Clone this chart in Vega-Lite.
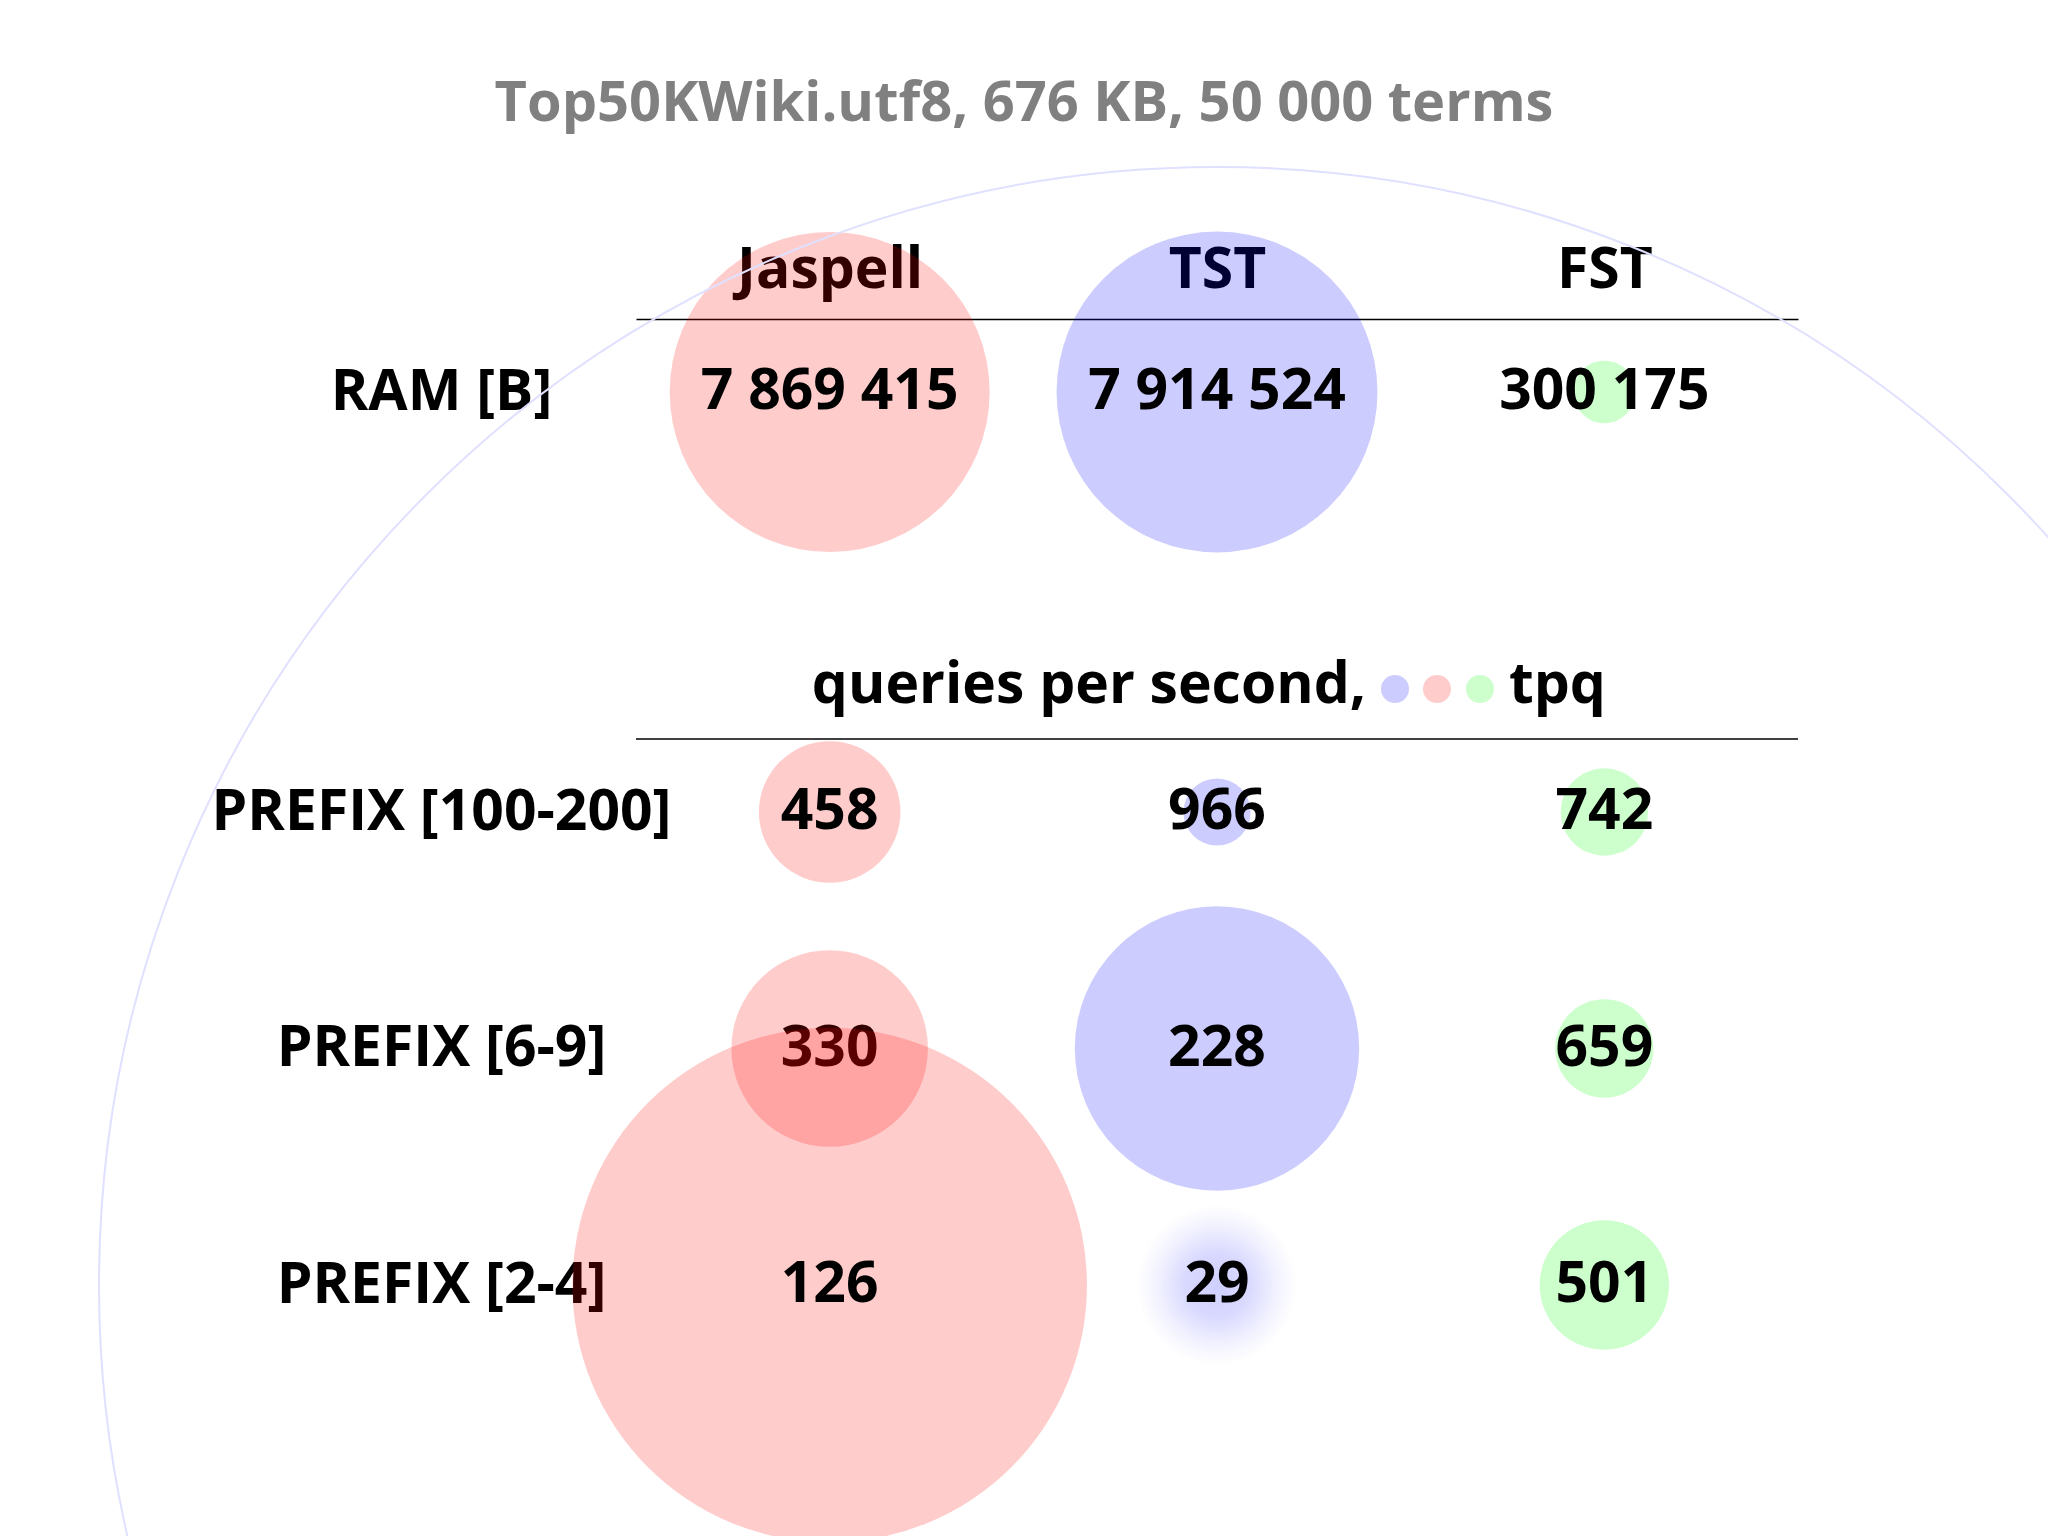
{
  "$schema": "https://vega.github.io/schema/vega-lite/v6.json",
  "autosize": {"type": "none"},
  "padding": {"left": 636, "top": 319, "right": 250, "bottom": 0},
  "width": 1162,
  "height": 1217,
  "background": "white",
  "title": {
    "text": "Top50KWiki.utf8, 676 KB, 50 000 terms",
    "font": "Open Sans",
    "fontSize": 56,
    "fontWeight": "bold",
    "color": "#808080",
    "anchor": "middle",
    "dx": -193,
    "offset": 30
  },
  "config": {
    "view": {"stroke": null},
    "font": "Open Sans",
    "locale": {"number": {"decimal": ".", "thousands": " ", "grouping": [3], "currency": ["", ""]}},
    "axisX": {
      "labelFont": "Open Sans", "labelFontSize": 57, "labelFontWeight": "bold", "labelColor": "black",
      "labelAngle": 0, "labelBaseline": "alphabetic", "labelPadding": 32, "labelLimit": 0,
      "ticks": false, "tickSize": 0, "domainColor": "black", "domainWidth": 1.5, "grid": false
    },
    "axisY": {
      "labelFont": "Open Sans", "labelFontSize": 57, "labelFontWeight": "bold", "labelColor": "black",
      "labelAlign": "center", "labelBaseline": "middle", "labelPadding": 195, "labelLimit": 0,
      "ticks": false, "tickSize": 0, "domain": false, "grid": false
    }
  },
  "datasets": {
    "ram": [
      {"metric": "RAM [B]", "impl": "Jaspell", "bytes": 7869415},
      {"metric": "RAM [B]", "impl": "TST", "bytes": 7914524},
      {"metric": "RAM [B]", "impl": "FST", "bytes": 300175}
    ],
    "qps": [
      {"metric": "PREFIX [100-200]", "impl": "Jaspell", "qps": 458},
      {"metric": "PREFIX [100-200]", "impl": "TST", "qps": 966},
      {"metric": "PREFIX [100-200]", "impl": "FST", "qps": 742},
      {"metric": "PREFIX [6-9]", "impl": "Jaspell", "qps": 330},
      {"metric": "PREFIX [6-9]", "impl": "TST", "qps": 228},
      {"metric": "PREFIX [6-9]", "impl": "FST", "qps": 659},
      {"metric": "PREFIX [2-4]", "impl": "Jaspell", "qps": 126},
      {"metric": "PREFIX [2-4]", "impl": "TST", "qps": 29},
      {"metric": "PREFIX [2-4]", "impl": "FST", "qps": 501}
    ]
  },
  "resolve": {"scale": {"y": "independent", "size": "independent"}},
  "layer": [
    {
      "data": {"name": "ram"},
      "layer": [
        {
          "mark": {"type": "circle", "opacity": 0.2},
          "encoding": {
            "x": {"field": "impl", "type": "nominal", "scale": {"type": "point", "domain": ["Jaspell", "TST", "FST"], "padding": 0.5}, "axis": {"orient": "top", "title": null}},
            "y": {"field": "metric", "type": "nominal", "scale": {"type": "point", "domain": ["RAM [B]"], "range": [0, 146]}, "axis": {"orient": "left", "title": null}},
            "color": {"field": "impl", "type": "nominal", "scale": {"domain": ["Jaspell", "TST", "FST"], "range": ["#ff0000", "#0000ff", "#00ff00"]}, "legend": null},
            "size": {"field": "bytes", "type": "quantitative", "scale": {"type": "linear", "domain": [0, 7869415], "range": [0, 102400], "zero": true, "nice": false}, "legend": null}
          }
        },
        {
          "mark": {"type": "text", "font": "Open Sans", "fontSize": 57, "fontWeight": "bold", "color": "black", "baseline": "middle"},
          "encoding": {
            "x": {"field": "impl", "type": "nominal", "scale": {"type": "point", "domain": ["Jaspell", "TST", "FST"], "padding": 0.5}, "axis": {"orient": "top", "title": null}},
            "y": {"field": "metric", "type": "nominal", "scale": {"type": "point", "domain": ["RAM [B]"], "range": [0, 146]}, "axis": {"orient": "left", "title": null}},
            "text": {"field": "bytes", "type": "quantitative", "format": ",d"}
          }
        }
      ]
    },
    {
      "data": {"name": "qps"},
      "layer": [
        {
          "transform": [{"filter": "datum.qps < 50"}],
          "mark": {"type": "circle", "filled": false, "stroke": "#e0e0ff", "strokeWidth": 2, "opacity": 1},
          "encoding": {
            "x": {"field": "impl", "type": "nominal", "scale": {"type": "point", "domain": ["Jaspell", "TST", "FST"], "padding": 0.5}, "axis": {"orient": "top", "title": null}},
            "y": {"field": "metric", "type": "nominal", "scale": {"type": "point", "domain": ["PREFIX [100-200]", "PREFIX [6-9]", "PREFIX [2-4]"], "range": [493, 966], "padding": 0}, "axis": {"orient": "left", "title": null}},
            "size": {"field": "qps", "type": "quantitative", "scale": {"type": "pow", "exponent": -2, "domain": [29, 966], "range": [4999696, 4505], "zero": false, "nice": false}, "legend": null}
          }
        },
        {
          "transform": [{"filter": "datum.qps < 50"}],
          "mark": {
            "type": "circle", "opacity": 1, "size": 25600,
            "fill": {"gradient": "radial", "x1": 0.5, "y1": 0.5, "r1": 0, "x2": 0.5, "y2": 0.5, "r2": 0.5,
              "stops": [
                {"offset": 0, "color": "rgba(0,0,255,0.19)"},
                {"offset": 0.4, "color": "rgba(0,0,255,0.15)"},
                {"offset": 0.75, "color": "rgba(0,0,255,0.05)"},
                {"offset": 1, "color": "rgba(0,0,255,0)"}
              ]}
          },
          "encoding": {
            "x": {"field": "impl", "type": "nominal", "scale": {"type": "point", "domain": ["Jaspell", "TST", "FST"], "padding": 0.5}, "axis": {"orient": "top", "title": null}},
            "y": {"field": "metric", "type": "nominal", "scale": {"type": "point", "domain": ["PREFIX [100-200]", "PREFIX [6-9]", "PREFIX [2-4]"], "range": [493, 966], "padding": 0}, "axis": {"orient": "left", "title": null}}
          }
        },
        {
          "transform": [{"filter": "datum.qps == 330"}],
          "mark": {"type": "text", "font": "Open Sans", "fontSize": 57, "fontWeight": "bold", "color": "black", "baseline": "middle"},
          "encoding": {
            "x": {"field": "impl", "type": "nominal", "scale": {"type": "point", "domain": ["Jaspell", "TST", "FST"], "padding": 0.5}, "axis": {"orient": "top", "title": null}},
            "y": {"field": "metric", "type": "nominal", "scale": {"type": "point", "domain": ["PREFIX [100-200]", "PREFIX [6-9]", "PREFIX [2-4]"], "range": [493, 966], "padding": 0}, "axis": {"orient": "left", "title": null}},
            "text": {"field": "qps", "type": "quantitative", "format": "d"}
          }
        },
        {
          "transform": [{"filter": "datum.qps >= 50"}],
          "mark": {"type": "circle", "opacity": 0.2},
          "encoding": {
            "x": {"field": "impl", "type": "nominal", "scale": {"type": "point", "domain": ["Jaspell", "TST", "FST"], "padding": 0.5}, "axis": {"orient": "top", "title": null}},
            "y": {"field": "metric", "type": "nominal", "scale": {"type": "point", "domain": ["PREFIX [100-200]", "PREFIX [6-9]", "PREFIX [2-4]"], "range": [493, 966], "padding": 0}, "axis": {"orient": "left", "title": null}},
            "color": {"field": "impl", "type": "nominal", "scale": {"domain": ["Jaspell", "TST", "FST"], "range": ["#ff0000", "#0000ff", "#00ff00"]}, "legend": null},
            "size": {"field": "qps", "type": "quantitative", "scale": {"type": "pow", "exponent": -2, "domain": [29, 966], "range": [4999696, 4505], "zero": false, "nice": false}, "legend": null}
          }
        },
        {
          "transform": [{"filter": "datum.qps != 330"}],
          "mark": {"type": "text", "font": "Open Sans", "fontSize": 57, "fontWeight": "bold", "color": "black", "baseline": "middle"},
          "encoding": {
            "x": {"field": "impl", "type": "nominal", "scale": {"type": "point", "domain": ["Jaspell", "TST", "FST"], "padding": 0.5}, "axis": {"orient": "top", "title": null}},
            "y": {"field": "metric", "type": "nominal", "scale": {"type": "point", "domain": ["PREFIX [100-200]", "PREFIX [6-9]", "PREFIX [2-4]"], "range": [493, 966], "padding": 0}, "axis": {"orient": "left", "title": null}},
            "text": {"field": "qps", "type": "quantitative", "format": "d"}
          }
        },
        {
          "transform": [{"filter": "datum.impl === 'TST' && datum.metric === 'PREFIX [100-200]'"}],
          "mark": {"type": "rule", "yOffset": -73, "color": "black", "strokeWidth": 1.5},
          "encoding": {
            "y": {"field": "metric", "type": "nominal", "scale": {"type": "point", "domain": ["PREFIX [100-200]", "PREFIX [6-9]", "PREFIX [2-4]"], "range": [493, 966], "padding": 0}, "axis": {"orient": "left", "title": null}}
          }
        },
        {
          "transform": [{"filter": "datum.impl === 'TST' && datum.metric === 'PREFIX [100-200]'"}],
          "mark": {"type": "text", "text": "queries per second,", "align": "right", "baseline": "alphabetic", "dx": 149, "dy": -109, "font": "Open Sans", "fontSize": 57, "fontWeight": "bold", "color": "black"},
          "encoding": {
            "x": {"field": "impl", "type": "nominal", "scale": {"type": "point", "domain": ["Jaspell", "TST", "FST"], "padding": 0.5}, "axis": {"orient": "top", "title": null}},
            "y": {"field": "metric", "type": "nominal", "scale": {"type": "point", "domain": ["PREFIX [100-200]", "PREFIX [6-9]", "PREFIX [2-4]"], "range": [493, 966], "padding": 0}, "axis": {"orient": "left", "title": null}}
          }
        },
        {
          "transform": [{"filter": "datum.impl === 'TST' && datum.metric === 'PREFIX [100-200]'"}],
          "mark": {"type": "text", "text": "tpq", "align": "left", "baseline": "alphabetic", "dx": 292, "dy": -109, "font": "Open Sans", "fontSize": 57, "fontWeight": "bold", "color": "black"},
          "encoding": {
            "x": {"field": "impl", "type": "nominal", "scale": {"type": "point", "domain": ["Jaspell", "TST", "FST"], "padding": 0.5}, "axis": {"orient": "top", "title": null}},
            "y": {"field": "metric", "type": "nominal", "scale": {"type": "point", "domain": ["PREFIX [100-200]", "PREFIX [6-9]", "PREFIX [2-4]"], "range": [493, 966], "padding": 0}, "axis": {"orient": "left", "title": null}}
          }
        },
        {
          "transform": [{"filter": "datum.impl === 'TST' && datum.metric === 'PREFIX [100-200]'"}],
          "mark": {"type": "circle", "xOffset": 178, "yOffset": -123, "size": 784, "color": "#ccccff", "opacity": 1},
          "encoding": {
            "x": {"field": "impl", "type": "nominal", "scale": {"type": "point", "domain": ["Jaspell", "TST", "FST"], "padding": 0.5}, "axis": {"orient": "top", "title": null}},
            "y": {"field": "metric", "type": "nominal", "scale": {"type": "point", "domain": ["PREFIX [100-200]", "PREFIX [6-9]", "PREFIX [2-4]"], "range": [493, 966], "padding": 0}, "axis": {"orient": "left", "title": null}}
          }
        },
        {
          "transform": [{"filter": "datum.impl === 'TST' && datum.metric === 'PREFIX [100-200]'"}],
          "mark": {"type": "circle", "xOffset": 220, "yOffset": -123, "size": 784, "color": "#ffcccc", "opacity": 1},
          "encoding": {
            "x": {"field": "impl", "type": "nominal", "scale": {"type": "point", "domain": ["Jaspell", "TST", "FST"], "padding": 0.5}, "axis": {"orient": "top", "title": null}},
            "y": {"field": "metric", "type": "nominal", "scale": {"type": "point", "domain": ["PREFIX [100-200]", "PREFIX [6-9]", "PREFIX [2-4]"], "range": [493, 966], "padding": 0}, "axis": {"orient": "left", "title": null}}
          }
        },
        {
          "transform": [{"filter": "datum.impl === 'TST' && datum.metric === 'PREFIX [100-200]'"}],
          "mark": {"type": "circle", "xOffset": 263, "yOffset": -123, "size": 784, "color": "#ccffcc", "opacity": 1},
          "encoding": {
            "x": {"field": "impl", "type": "nominal", "scale": {"type": "point", "domain": ["Jaspell", "TST", "FST"], "padding": 0.5}, "axis": {"orient": "top", "title": null}},
            "y": {"field": "metric", "type": "nominal", "scale": {"type": "point", "domain": ["PREFIX [100-200]", "PREFIX [6-9]", "PREFIX [2-4]"], "range": [493, 966], "padding": 0}, "axis": {"orient": "left", "title": null}}
          }
        }
      ]
    }
  ]
}
